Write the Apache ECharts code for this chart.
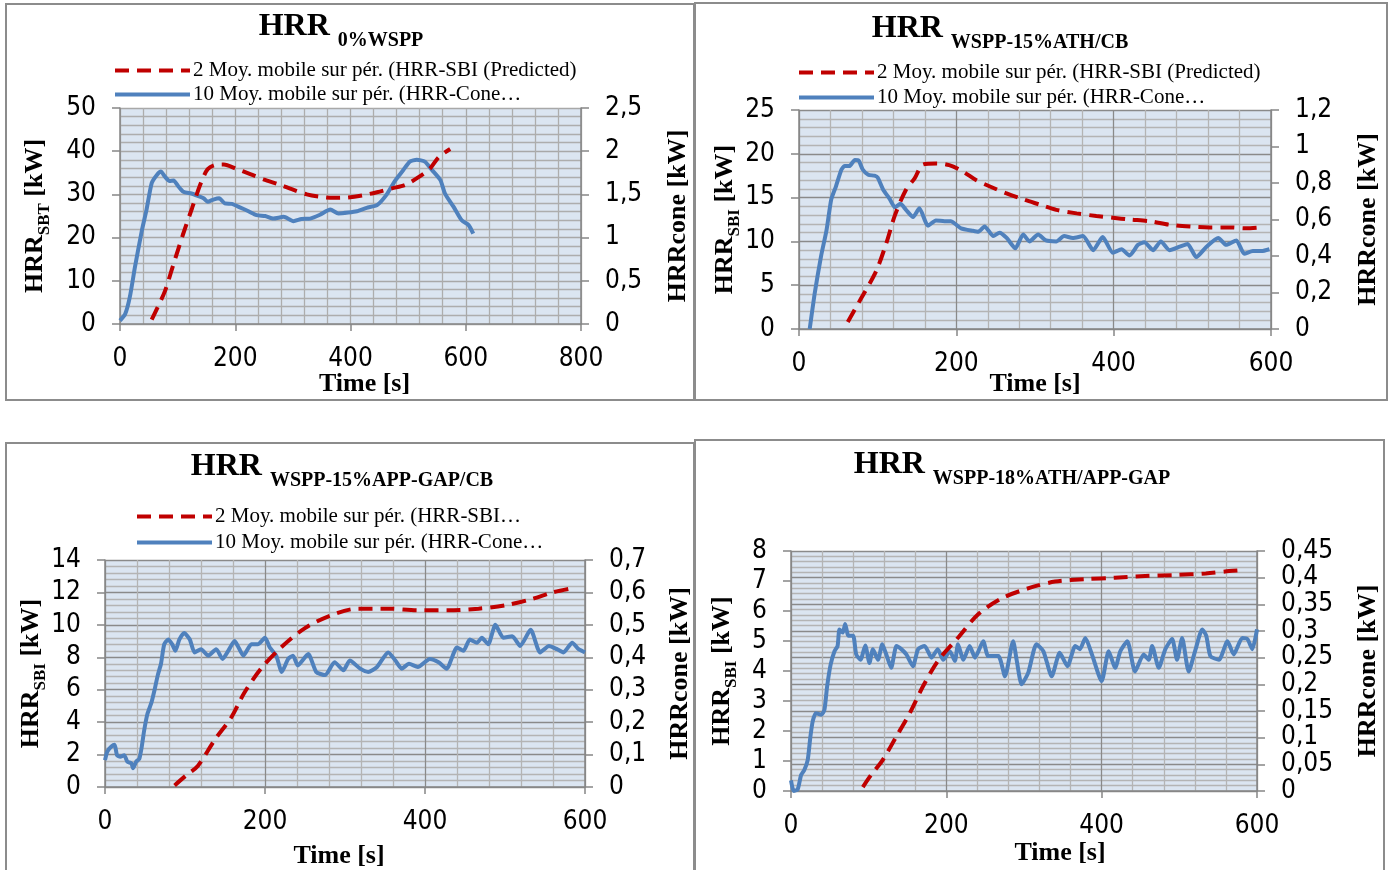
<!DOCTYPE html>
<html>
<head>
<meta charset="utf-8">
<script src="https://cdn.jsdelivr.net/npm/echarts/dist/echarts.min.js"></script>
<style>
  html, body { margin: 0; padding: 0; background: #fff; }
  #chart { width: 1392px; height: 870px; }
</style>
</head>
<body>
<div id="chart"></div>
<script>
// ---- data (time in s, SBI on left axis, cone on right axis) ----
const p1SbiT = [55, 65, 78, 92, 109, 125, 140, 152, 165, 180, 202, 226, 249, 278, 298, 324, 344, 370, 396, 422, 446, 472, 495, 518, 538, 553, 573]
const p1SbiV = [1, 3.8, 7.6, 13.5, 20.6, 26.8, 32.5, 35.8, 36.8, 36.9, 35.9, 34.7, 33.5, 32.2, 31.2, 30.0, 29.5, 29.2, 29.3, 29.8, 30.5, 31.4, 32.2, 34.0, 36.0, 38.6, 40.5]
const p1ConeT = [0, 9, 17, 26, 38, 46, 55, 64, 71, 78, 86, 93, 101, 110, 124, 136, 145, 152, 162, 172, 182, 194, 208, 223, 237, 252, 266, 284, 301, 315, 330, 347, 365, 379, 396, 411, 428, 446, 463, 477, 492, 503, 515, 529, 541, 556, 564, 579, 593, 605, 613]
const p1ConeV = [0.04, 0.115, 0.31, 0.66, 1.085, 1.32, 1.63, 1.725, 1.765, 1.705, 1.655, 1.66, 1.595, 1.53, 1.51, 1.48, 1.455, 1.415, 1.44, 1.455, 1.395, 1.39, 1.35, 1.305, 1.26, 1.25, 1.22, 1.24, 1.19, 1.215, 1.22, 1.265, 1.325, 1.28, 1.29, 1.305, 1.345, 1.375, 1.5, 1.655, 1.785, 1.88, 1.9, 1.88, 1.785, 1.665, 1.51, 1.355, 1.2, 1.145, 1.045]

const p2SbiT = [62, 79, 98, 111, 122, 136, 147, 158, 175, 191, 208, 225, 242, 263, 285, 306, 327, 353, 378, 399, 420, 446, 471, 497, 522, 547, 568, 586]
const p2SbiV = [0.8, 3.5, 6.6, 9.8, 13.0, 15.9, 17.2, 18.8, 18.9, 18.7, 18.0, 17.0, 16.3, 15.5, 14.8, 14.2, 13.6, 13.2, 12.9, 12.7, 12.5, 12.3, 11.9, 11.7, 11.6, 11.6, 11.5, 11.6]
const p2ConeT = [13.6, 20, 28, 35, 41, 47, 54, 58, 64, 71, 76, 81, 88, 96, 100, 107, 115, 122, 129, 136, 145, 153, 164, 174, 185, 193, 200, 206, 221, 228, 236, 247, 255, 264, 275, 285, 293, 304, 314, 327, 337, 348, 361, 374, 386, 399, 410, 420, 431, 439, 450, 460, 471, 484, 494, 505, 518, 533, 543, 556, 566, 577, 588, 598]
const p2ConeV = [0, 0.197, 0.398, 0.542, 0.71, 0.782, 0.874, 0.893, 0.893, 0.926, 0.922, 0.874, 0.845, 0.84, 0.83, 0.763, 0.715, 0.667, 0.686, 0.653, 0.614, 0.662, 0.566, 0.595, 0.59, 0.59, 0.571, 0.552, 0.538, 0.533, 0.562, 0.509, 0.528, 0.499, 0.442, 0.518, 0.48, 0.518, 0.485, 0.48, 0.509, 0.499, 0.509, 0.432, 0.504, 0.418, 0.437, 0.403, 0.461, 0.475, 0.432, 0.48, 0.432, 0.451, 0.466, 0.394, 0.451, 0.499, 0.461, 0.485, 0.413, 0.427, 0.427, 0.437]

const p3SbiT = [87, 101, 116, 137, 158, 174, 195, 220, 250, 283, 316, 354, 391, 429, 467, 500, 534, 559, 588]
const p3SbiV = [0.1, 0.7, 1.3, 2.9, 4.3, 5.8, 7.3, 8.6, 9.8, 10.6, 11.0, 11.0, 10.9, 10.9, 11.0, 11.2, 11.6, 12.0, 12.3]
const p3ConeT = [0, 3, 8, 12, 15, 19, 24, 28, 33, 35, 39, 43, 46, 49, 53, 58, 62, 66, 70, 74, 79, 84, 88, 93, 99, 106, 112, 120, 129, 139, 147, 154, 162, 166, 173, 183, 191, 200, 206, 214, 221, 229, 235, 241, 254, 264, 275, 287, 298, 306, 319, 329, 340, 354, 363, 371, 380, 391, 406, 417, 427, 440, 448, 456, 465, 471, 479, 488, 498, 509, 519, 532, 544, 555, 565, 573, 584, 592, 600]
const p3ConeV = [0.083, 0.11, 0.125, 0.13, 0.098, 0.093, 0.098, 0.078, 0.073, 0.058, 0.078, 0.088, 0.125, 0.175, 0.225, 0.26, 0.3, 0.345, 0.38, 0.44, 0.455, 0.44, 0.42, 0.455, 0.475, 0.455, 0.415, 0.425, 0.405, 0.425, 0.395, 0.42, 0.45, 0.435, 0.405, 0.44, 0.44, 0.46, 0.43, 0.405, 0.355, 0.395, 0.405, 0.375, 0.41, 0.355, 0.345, 0.385, 0.36, 0.39, 0.365, 0.355, 0.37, 0.415, 0.39, 0.365, 0.38, 0.37, 0.395, 0.385, 0.365, 0.43, 0.42, 0.455, 0.445, 0.46, 0.44, 0.5, 0.46, 0.465, 0.435, 0.485, 0.415, 0.435, 0.425, 0.415, 0.445, 0.425, 0.415]

const p4SbiT = [92.5, 103, 118, 135.5, 153, 170, 189, 215, 241, 271, 306, 340, 379, 417, 456, 495, 534, 564, 585]
const p4SbiV = [0.13, 0.53, 1.03, 1.81, 2.6, 3.49, 4.33, 5.11, 5.89, 6.42, 6.76, 6.98, 7.06, 7.11, 7.17, 7.2, 7.25, 7.33, 7.37]
const p4ConeT = [0, 3.4, 8.6, 13, 17, 21.5, 25, 28, 32, 39, 43, 46.5, 51, 56, 60, 62.4, 66.7, 69.7, 74, 80, 84, 89.5, 95.6, 101, 105.5, 112, 117.5, 122.7, 129, 135.8, 142, 148.5, 157, 163.6, 172, 181, 189, 196, 204.5, 211, 215, 222, 230, 237, 247.5, 254, 267, 275.5, 286, 290.5, 297, 305.5, 316, 325, 335.7, 346, 356, 366, 372, 379, 387.5, 400, 409, 417.5, 424, 433, 443, 454, 460.6, 465, 473.5, 482, 490.7, 497, 503.6, 512, 521, 529.5, 534.7, 540, 551, 562, 570, 581, 587.6, 594, 600]
const p4ConeV = [0.02, 0, 0.003, 0.03, 0.039, 0.058, 0.102, 0.131, 0.146, 0.143, 0.152, 0.196, 0.237, 0.262, 0.272, 0.303, 0.297, 0.313, 0.291, 0.291, 0.256, 0.246, 0.273, 0.24, 0.266, 0.246, 0.275, 0.256, 0.231, 0.272, 0.266, 0.256, 0.234, 0.266, 0.272, 0.25, 0.266, 0.246, 0.262, 0.244, 0.275, 0.246, 0.272, 0.25, 0.281, 0.253, 0.253, 0.215, 0.281, 0.246, 0.2, 0.222, 0.275, 0.262, 0.215, 0.259, 0.234, 0.272, 0.266, 0.287, 0.256, 0.206, 0.262, 0.231, 0.262, 0.281, 0.224, 0.256, 0.246, 0.272, 0.231, 0.266, 0.285, 0.246, 0.287, 0.224, 0.266, 0.303, 0.291, 0.253, 0.246, 0.281, 0.256, 0.287, 0.285, 0.266, 0.303]

const redFull = '2 Moy. mobile sur pér. (HRR-SBI (Predicted)'
const redShort = '2 Moy. mobile sur pér. (HRR-SBI…'
const blueName = '10 Moy. mobile sur pér. (HRR-Cone…'
const subTitles = ['0%WSPP', 'WSPP-15%ATH/CB', 'WSPP-15%APP-GAP/CB', 'WSPP-18%ATH/APP-GAP']
const leftSubs = ['SBT', 'SBI', 'SBI', 'SBI']

const SERIF = '"Liberation Serif", "Times New Roman", serif'
const NUM = '"Liberation Sans Narrow", "DejaVu Sans Condensed", sans-serif'
const RED = '#c00000'
const BLUE = '#4f81bd'
const AXIS = '#868686'

const panels = [
    { sbi: [p1SbiT, p1SbiV], cone: [p1ConeT, p1ConeV], red: redFull,
      grid: { left: 120, top: 108, width: 461, height: 216 }, titleX: 341, titleY: 11,
      legend: { left: 113, top: 60, gap: 3 }, xMax: 800, yMax: 50, yInt: 10, rMax: 2.5, rInt: 0.5,
      xGap: 47, xPad: [0, 0, 0, 28], yGap: 72, rGap: 84, gridAxis: 'left', major: '#a8a8a8', minor: '#adadad' },
    { sbi: [p2SbiT, p2SbiV], cone: [p2ConeT, p2ConeV], red: redFull,
      grid: { left: 799, top: 110, width: 472, height: 219 }, titleX: 1000, titleY: 13,
      legend: { left: 797, top: 62, gap: 4 }, xMax: 600, yMax: 25, yInt: 5, rMax: 1.2, rInt: 0.2,
      xGap: 42, xPad: [0, 0, 0, 0], yGap: 61, rGap: 84, gridAxis: 'left', major: '#8a8a8a', minor: '#b4b4b4' },
    { sbi: [p3SbiT, p3SbiV], cone: [p3ConeT, p3ConeV], red: redShort,
      grid: { left: 105, top: 560, width: 480, height: 227 }, titleX: 342, titleY: 451,
      legend: { left: 135, top: 506, gap: 5 }, xMax: 600, yMax: 14, yInt: 2, rMax: 0.7, rInt: 0.1,
      xGap: 56, xPad: [0, 12, 0, 0], yGap: 61, rGap: 82, gridAxis: 'left', major: '#8a8a8a', minor: '#b4b4b4' },
    { sbi: [p4SbiT, p4SbiV], cone: [p4ConeT, p4ConeV], red: redFull,
      grid: { left: 791, top: 551, width: 466, height: 240 }, titleX: 1012, titleY: 449,
      legend: null, xMax: 600, yMax: 8, yInt: 1, rMax: 0.45, rInt: 0.05,
      xGap: 49, xPad: [0, 0, 0, 72], yGap: 56, rGap: 98, gridAxis: 'right', major: '#8a8a8a', minor: '#b4b4b4' }
]

const comma = v => String(+v.toFixed(3)).replace('.', ',')
const pairs = (t, v) => t.map((x, i) => [x, v[i]])

const numLabel = { color: '#000', fontFamily: NUM, fontSize: 26 }
const titles = [], grids = [], xAxes = [], yAxes = [], series = [], legends = []

panels.forEach((p, i) => {
    titles.push({
        text: '{a|HRR}{b|' + subTitles[i] + '}',
        left: p.titleX, top: p.titleY, textAlign: 'center', padding: 0,
        textStyle: {
            rich: {
                a: { fontFamily: SERIF, fontWeight: 'bold', fontSize: 32, lineHeight: 32, color: '#000', verticalAlign: 'top' },
                b: { fontFamily: SERIF, fontWeight: 'bold', fontSize: 20, lineHeight: 20, color: '#000', verticalAlign: 'top', padding: [20, 0, 0, 8] }
            }
        }
    })
    grids.push(Object.assign({ show: true, backgroundColor: '#dbe5f1', borderWidth: 0 }, p.grid))

    xAxes.push({
        gridIndex: i, type: 'value', min: 0, max: p.xMax, interval: 200,
        axisLine: { show: true, lineStyle: { color: AXIS, width: 1.5 } },
        axisTick: { show: true, length: 7, lineStyle: { color: AXIS, width: 1.5 } },
        axisLabel: Object.assign({ margin: 22 }, numLabel),
        splitLine: { show: true, lineStyle: { color: p.major, width: 1.3 } },
        minorTick: { show: false, splitNumber: 5 },
        minorSplitLine: { show: true, lineStyle: { color: p.minor, width: 1.3 } },
        name: 'Time [s]', nameLocation: 'middle', nameGap: p.xGap, nameMoveOverlap: false,
        nameTextStyle: { fontFamily: SERIF, fontWeight: 'bold', fontSize: 26, color: '#000', padding: p.xPad }
    })

    const leftGrid = p.gridAxis === 'left'
    yAxes.push({
        gridIndex: i, type: 'value', position: 'left', min: 0, max: p.yMax, interval: p.yInt,
        axisLine: { show: true, lineStyle: { color: AXIS, width: 1.5 } },
        axisTick: { show: true, length: 8, lineStyle: { color: AXIS, width: 1.5 } },
        axisLabel: Object.assign({ margin: 24, formatter: comma }, numLabel),
        splitLine: { show: leftGrid, lineStyle: { color: p.major, width: 1.3 } },
        minorTick: { show: false, splitNumber: 5 },
        minorSplitLine: { show: leftGrid, lineStyle: { color: p.minor, width: 1.3 } },
        name: '{a|HRR}{b|' + leftSubs[i] + '}{a| [kW]}', nameLocation: 'middle', nameRotate: 90,
        nameGap: p.yGap, nameMoveOverlap: false,
        nameTextStyle: {
            rich: {
                a: { fontFamily: SERIF, fontWeight: 'bold', fontSize: 26, lineHeight: 26, color: '#000', verticalAlign: 'top' },
                b: { fontFamily: SERIF, fontWeight: 'bold', fontSize: 17, lineHeight: 17, color: '#000', verticalAlign: 'top', padding: [14, 0, 0, 0] }
            }
        }
    })
    yAxes.push({
        gridIndex: i, type: 'value', position: 'right', min: 0, max: p.rMax, interval: p.rInt,
        axisLine: { show: true, lineStyle: { color: AXIS, width: 1.5 } },
        axisTick: { show: true, length: 8, lineStyle: { color: AXIS, width: 1.5 } },
        axisLabel: Object.assign({ margin: 24, formatter: comma }, numLabel),
        splitLine: { show: !leftGrid, lineStyle: { color: p.major, width: 1.3 } },
        minorTick: { show: false, splitNumber: 5 },
        minorSplitLine: { show: !leftGrid, lineStyle: { color: p.minor, width: 1.3 } },
        name: 'HRRcone [kW]', nameLocation: 'middle', nameRotate: 90, nameGap: p.rGap, nameMoveOverlap: false,
        nameTextStyle: { fontFamily: SERIF, fontWeight: 'bold', fontSize: 26, color: '#000' }
    })

    series.push({
        type: 'line', name: p.red, xAxisIndex: i, yAxisIndex: 2 * i,
        data: pairs(p.sbi[0], p.sbi[1]), symbol: 'none', smooth: 0.3,
        lineStyle: { color: RED, width: 4, type: [14, 8] }, itemStyle: { color: RED }, z: 3
    })
    series.push({
        type: 'line', name: blueName, xAxisIndex: i, yAxisIndex: 2 * i + 1,
        data: pairs(p.cone[0], p.cone[1]), symbol: 'none', smooth: 0.2,
        lineStyle: { color: BLUE, width: 4 }, itemStyle: { color: BLUE }, z: 2
    })

    if (p.legend) {
        legends.push({
            left: p.legend.left, top: p.legend.top, orient: 'vertical', padding: 0,
            itemWidth: 75, itemHeight: 18, itemGap: p.legend.gap, selectedMode: false,
            data: [p.red, blueName],
            itemStyle: { opacity: 0 },
            lineStyle: { width: 4 },
            textStyle: { fontFamily: SERIF, fontSize: 21, color: '#000', padding: [0, 0, 0, -2] }
        })
    }
})

const frame = (x, y, w, h) => ({
    type: 'rect', shape: { x, y, width: w, height: h }, silent: true,
    style: { fill: 'none', stroke: '#8c8c8c', lineWidth: 2 }
})

const chart = echarts.init(document.getElementById('chart'))
chart.setOption({
    animation: false,
    backgroundColor: '#fff',
    title: titles,
    legend: legends,
    grid: grids,
    xAxis: xAxes,
    yAxis: yAxes,
    series: series,
    graphic: [
        frame(6, 4, 688, 396),
        frame(695, 3, 692, 397),
        frame(6, 443, 688, 440),
        frame(695, 440, 689, 440)
    ]
})
</script>
</body>
</html>
